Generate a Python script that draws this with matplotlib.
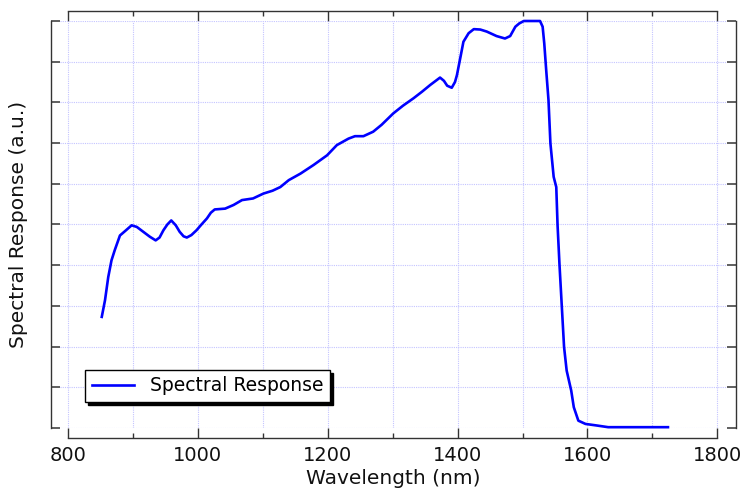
import numpy as np
import matplotlib
matplotlib.use("Agg")
import matplotlib.pyplot as plt
from matplotlib.ticker import MultipleLocator, NullFormatter

# wavelength (nm) and normalised response
wavelength = [852, 857, 862, 867, 872, 880, 888, 898, 906, 916, 926, 935, 941, 947,
              953, 959, 966, 972, 978, 983, 990, 998, 1005, 1014, 1020, 1026, 1034,
              1042, 1055, 1068, 1085, 1101, 1115, 1127, 1140, 1158, 1178, 1199, 1214,
              1232, 1242, 1255, 1270, 1283, 1301, 1316, 1332, 1345, 1358, 1373, 1379,
              1384, 1391, 1396, 1399, 1405, 1409, 1417, 1425, 1435, 1445, 1460, 1473,
              1481, 1489, 1495, 1502, 1527, 1531, 1533.5, 1536.5, 1540, 1543, 1548,
              1552, 1554, 1557, 1560, 1564, 1568, 1575, 1579, 1586, 1597, 1615, 1632,
              1724]
response = [0.273, 0.314, 0.371, 0.412, 0.437, 0.473, 0.484, 0.498, 0.494, 0.482, 0.470,
            0.461, 0.468, 0.486, 0.500, 0.510, 0.498, 0.482, 0.471, 0.468, 0.474, 0.486,
            0.499, 0.515, 0.529, 0.537, 0.538, 0.539, 0.548, 0.560, 0.564, 0.576, 0.583,
            0.592, 0.609, 0.625, 0.646, 0.670, 0.695, 0.711, 0.717, 0.717, 0.728, 0.745,
            0.773, 0.792, 0.810, 0.826, 0.843, 0.861, 0.853, 0.841, 0.836, 0.850, 0.867,
            0.916, 0.949, 0.970, 0.980, 0.979, 0.974, 0.963, 0.957, 0.963, 0.986, 0.994,
            1.0, 1.0, 0.986, 0.945, 0.879, 0.806, 0.699, 0.617, 0.592, 0.498, 0.400,
            0.314, 0.199, 0.141, 0.092, 0.051, 0.018, 0.010, 0.006, 0.002, 0.002]

W, H = 755, 495
fig = plt.figure(figsize=(W / 100, H / 100), dpi=100)
# plot area in pixels: x 60..727, y 21..428
ax = fig.add_axes([60 / W, 1 - 428 / H, (727 - 60) / W, (428 - 21) / H])

ax.plot(wavelength, response, color="#0000ff", lw=1.9, label="Spectral Response",
        clip_on=False, zorder=3)

px = 649 / 1000.0  # pixels per nm
ax.set_xlim(800 - 8 / px, 1800 + 9.7 / px)
ax.set_ylim(0, 1)

ax.xaxis.set_major_locator(MultipleLocator(200))
ax.xaxis.set_minor_locator(MultipleLocator(100))
ax.yaxis.set_major_locator(MultipleLocator(0.1))
ax.yaxis.set_major_formatter(NullFormatter())

grid_kw = dict(color="#c4c4ff", linestyle=(0, (1, 1)), linewidth=0.8)
ax.grid(True, which="both", axis="x", **grid_kw)
ax.grid(True, which="major", axis="y", **grid_kw)
ax.set_axisbelow(True)

# offset spines like the original
for side, off in (("left", 6.7), ("right", 6.5), ("bottom", 7.2), ("top", 7.4)):
    ax.spines[side].set_position(("outward", off))
    ax.spines[side].set_linewidth(1.0)
    ax.spines[side].set_color("#333333")
ax.spines["bottom"].set_bounds(800, 1800)
ax.spines["top"].set_bounds(800, 1800)

ax.tick_params(axis="x", which="major", direction="in", length=7.2, width=1,
               top=True, labelsize=14, pad=6, colors="#333333", labelcolor="#111111")
ax.tick_params(axis="x", which="minor", direction="in", length=3.6, width=1,
               top=True, colors="#333333")
ax.tick_params(axis="y", which="major", direction="in", length=6.7, width=1.2,
               right=True, colors="#444444")

ax.set_xlabel("Wavelength (nm)", fontsize=14.5, labelpad=3, color="#111111")
ax.set_ylabel("Spectral Response (a.u.)", fontsize=14.5, labelpad=13, color="#111111")

leg = ax.legend(loc="lower left", bbox_to_anchor=(85 / W, 1 - 402 / H),
                bbox_transform=fig.transFigure, borderaxespad=0, fontsize=13.5,
                fancybox=False, shadow={"color": "black", "alpha": 1},
                edgecolor="black", framealpha=1, handlelength=2.25,
                borderpad=0.35, handletextpad=0.85)
leg.get_frame().set_linewidth(1.0)

fig.savefig("out.png", dpi=100)
